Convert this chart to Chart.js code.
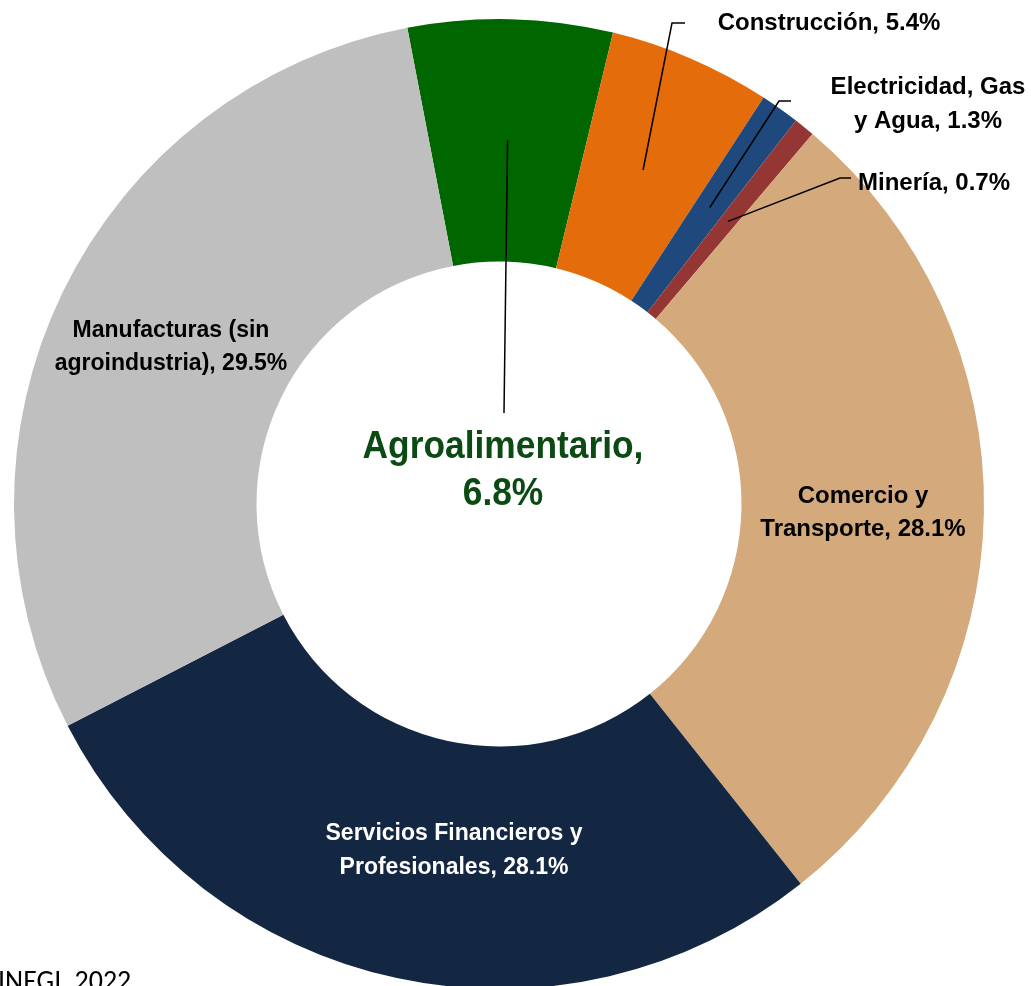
<!DOCTYPE html>
<html>
<head>
<meta charset="utf-8">
<script src="https://cdn.jsdelivr.net/npm/chart.js@4.4.1/dist/chart.umd.min.js"></script>
<style>
  html, body { margin: 0; padding: 0; background: #fff; overflow: hidden; }
  #wrap { width: 1031px; height: 1028px; }
</style>
</head>
<body>
<div id="wrap"><canvas id="myChart" width="1031" height="1028"></canvas></div>
<script>
// datos (participación % en el PIB)
const sectores = ['Agroalimentario', 'Construcción', 'Electricidad, Gas y Agua', 'Minería',
                  'Comercio y Transporte', 'Servicios Financieros y Profesionales', 'Manufacturas (sin agroindustria)']
const valores = [6.8, 5.4, 1.3, 0.7, 28.1, 28.1, 29.5]
const colores = ['#006600', '#E46C0A', '#1F497D', '#943634', '#D4A97B', '#132642', '#BFBFBF']
const fuente = 'INEGI, 2022'

// etiquetas: lineas de texto, posicion, color, tamaño
const etiquetas = [
  { lines: ['Agroalimentario,', '6.8%'], x: 503, y: [448, 495], color: '#0B4A12', size: 38, sx: 0.93 },
  { lines: ['Construcción, 5.4%'], x: 829, y: [23], color: '#000', size: 24, leader: [[672, 23], [685, 23]] },
  { lines: ['Electricidad, Gas', 'y Agua, 1.3%'], x: 928, y: [87, 121], color: '#000', size: 24, leader: [[779, 101], [791, 101]] },
  { lines: ['Minería, 0.7%'], x: 934, y: [183], color: '#000', size: 24, leader: [[840, 178], [851, 178]] },
  { lines: ['Comercio y', 'Transporte, 28.1%'], x: 863, y: [496, 529], color: '#000', size: 24 },
  { lines: ['Servicios Financieros y', 'Profesionales, 28.1%'], x: 454, y: [834, 868], color: '#fff', size: 23 },
  { lines: ['Manufacturas (sin', 'agroindustria), 29.5%'], x: 171, y: [331, 364], color: '#000', size: 23 }
]
const fam = "'Liberation Sans Narrow', 'Arial Narrow', Arial, sans-serif"

const labelsPlugin = {
  id: 'labelsPlugin',
  afterDraw(chart) {
    const ctx = chart.ctx
    const arcs = chart.getDatasetMeta(0).data
    ctx.save()
    etiquetas.forEach((e, i) => {
      ctx.strokeStyle = '#000'
      ctx.lineWidth = 1.5
      if (i == 0) {
        // linea del agroalimentario hacia el centro
        const p = arcs[i].tooltipPosition()
        ctx.beginPath()
        ctx.moveTo(p.x, p.y)
        ctx.lineTo(504, 413)
        ctx.stroke()
      }
      if (e.leader) {
        const p = arcs[i].tooltipPosition()
        ctx.beginPath()
        ctx.moveTo(p.x, p.y)
        e.leader.forEach(q => ctx.lineTo(q[0], q[1]))
        ctx.stroke()
      }
      ctx.fillStyle = e.color
      ctx.font = 'bold ' + e.size + 'px ' + fam
      ctx.textAlign = 'center'
      ctx.textBaseline = 'middle'
      const sx = e.sx || 1
      e.lines.forEach((l, k) => {
        ctx.save()
        ctx.translate(e.x, e.y[k])
        ctx.scale(sx, 1)
        ctx.fillText(l, 0, 0)
        ctx.restore()
      })
    })
    ctx.fillStyle = '#000'
    ctx.font = '28px Carlito, Calibri, sans-serif'
    ctx.textAlign = 'left'
    ctx.textBaseline = 'top'
    ctx.fillText(fuente, -2, 969)
    ctx.restore()
  }
}

const config = {
  type: 'doughnut',
  data: {
    labels: sectores,
    datasets: [{
      data: valores,
      backgroundColor: colores,
      borderWidth: 0
    }]
  },
  options: {
    responsive: false,
    animation: false,
    rotation: -10.9,
    cutout: '50%',
    layout: { padding: { left: 14, right: 47, top: 19, bottom: 39 } },
    plugins: { legend: { display: false }, tooltip: { enabled: false } }
  },
  plugins: [labelsPlugin]
}
new Chart(document.getElementById('myChart'), config)
</script>
</body>
</html>
